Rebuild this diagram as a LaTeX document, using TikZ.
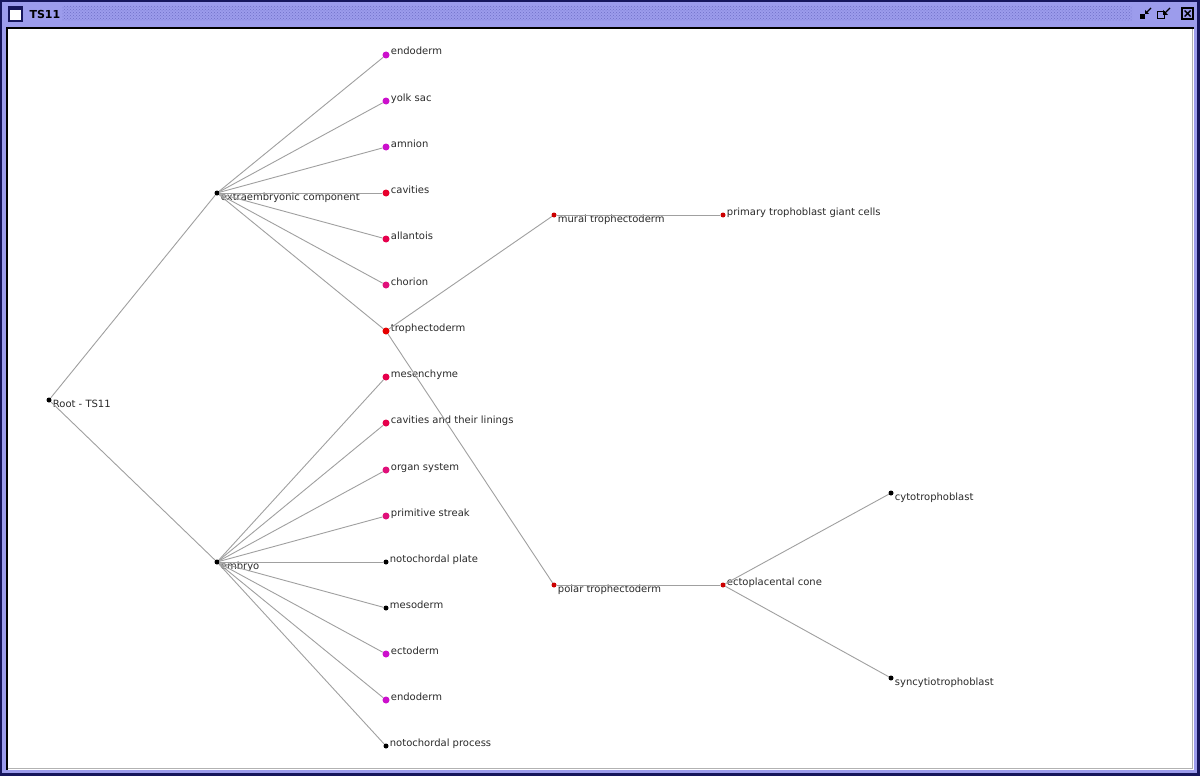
\documentclass[tikz,border=0pt]{standalone}
\usepackage{fontspec}
\setmainfont{DejaVu Sans}
\usetikzlibrary{patterns}
\definecolor{navy}{HTML}{16165C}
\definecolor{lavender}{HTML}{9C9CEC}
\definecolor{hatch}{HTML}{7070C8}
\definecolor{edgegray}{HTML}{A0A0A0}
\definecolor{txtgray}{HTML}{2A2A2A}
\definecolor{mag}{HTML}{CC10CC}
\definecolor{pinkred}{HTML}{E6004C}
\definecolor{rosered}{HTML}{E0107A}
\definecolor{hotred}{HTML}{E8002C}
\definecolor{darkred}{HTML}{CC0000}
\begin{document}
\begin{tikzpicture}[x=1pt, y=-1pt,
  font=\fontsize{10}{12}\selectfont, text=txtgray,
  dot/.style={circle, fill=#1, inner sep=0pt, minimum size=7pt},
  smalldot/.style={circle, fill=#1, inner sep=0pt, minimum size=5pt},
  lblup/.style={label={[anchor=base west, inner sep=1pt]0:#1}},
  lbldown/.style={label={[anchor=north west, inner sep=0pt, xshift=1pt]0:#1}},
  edge/.style={draw=edgegray, line width=0.9pt}]
  \useasboundingbox (0,0) rectangle (1200,776);

  % Window frame
  \fill[navy] (0,0) rectangle (1200,776);
  \fill[lavender] (2,2) rectangle (1197,773);
  \fill[pattern=crosshatch dots, pattern color=hatch] (62,6) rectangle (1132,21);
  \fill[white] (7,27) rectangle (1194,770);
  \draw[black, line width=1.5pt] (7,770) -- (7,28) -- (1194,28);
  \draw[gray!60, line width=1pt] (8,768) -- (1192,768) -- (1192,29);

  % Title bar
  \draw[navy, fill=white, line width=1.2pt] (9,7) rectangle (22,21);
  \fill[navy] (9,7) rectangle (22,10);
  \node[anchor=west, font=\bfseries\fontsize{11}{12}\selectfont, text=black] (title) at (26,14) {TS11};
  \fill[black] (1140,14) rectangle (1145,19);
  \draw[black, line width=1.2pt] (1151,8) -- (1146,13);
  \fill[black] (1145,10) -- (1145,14) -- (1149,14) -- cycle;
  \draw[black, line width=1pt] (1157,12) rectangle (1164,19);
  \draw[black, line width=1.2pt] (1170,8) -- (1164,14);
  \fill[black] (1163,10) -- (1163,15) -- (1168,15) -- cycle;
  \draw[black, line width=1.2pt] (1182,8) rectangle (1193,19);
  \draw[black, line width=1.4pt] (1184.5,10.5) -- (1190.5,16.5) (1190.5,10.5) -- (1184.5,16.5);

  % Root and first level
  \node[smalldot=black, lbldown={Root - TS11}] (root) at (49,400) {};
  \node[smalldot=black, lbldown={extraembryonic component}] (extra) at (217,193) {};
  \node[smalldot=black, lbldown={embryo}] (embryo) at (217,562) {};

  % Extraembryonic component
  \node[dot=mag, lblup={endoderm}] (xendo) at (386,55) {};
  \node[dot=mag, lblup={yolk sac}] (yolk) at (386,101) {};
  \node[dot=mag, lblup={amnion}] (amnion) at (386,147) {};
  \node[dot=hotred, lblup={cavities}] (xcav) at (386,193) {};
  \node[dot=pinkred, lblup={allantois}] (allan) at (386,239) {};
  \node[dot=rosered, lblup={chorion}] (chorion) at (386,285) {};
  \node[dot=red!90!black, lblup={trophectoderm}] (troph) at (386,331) {};

  % Embryo
  \node[dot=pinkred, lblup={mesenchyme}] (mesen) at (386,377) {};
  \node[dot=pinkred, lblup={cavities and their linings}] (ecav) at (386,423) {};
  \node[dot=rosered, lblup={organ system}] (organ) at (386,470) {};
  \node[dot=rosered, lblup={primitive streak}] (streak) at (386,516) {};
  \node[smalldot=black, lblup={notochordal plate}] (nplate) at (386,562) {};
  \node[smalldot=black, lblup={mesoderm}] (meso) at (386,608) {};
  \node[dot=mag, lblup={ectoderm}] (ecto) at (386,654) {};
  \node[dot=mag, lblup={endoderm}] (eendo) at (386,700) {};
  \node[smalldot=black, lblup={notochordal process}] (nproc) at (386,746) {};

  % Trophectoderm branch
  \node[smalldot=darkred, lbldown={mural trophectoderm}] (mural) at (554,215) {};
  \node[smalldot=darkred, lblup={primary trophoblast giant cells}] (giant) at (723,215) {};
  \node[smalldot=darkred, lbldown={polar trophectoderm}] (polar) at (554,585) {};
  \node[smalldot=darkred, lblup={ectoplacental cone}] (cone) at (723,585) {};
  \node[smalldot=black, lbldown={cytotrophoblast}] (cyto) at (891,493) {};
  \node[smalldot=black, lbldown={syncytiotrophoblast}] (syncy) at (891,678) {};

  % Edges
  \draw[edge] (root) -- (extra);
  \draw[edge] (root) -- (embryo);
  \foreach \n in {xendo, yolk, amnion, xcav, allan, chorion, troph}
    \draw[edge] (extra) -- (\n);
  \foreach \n in {mesen, ecav, organ, streak, nplate, meso, ecto, eendo, nproc}
    \draw[edge] (embryo) -- (\n);
  \draw[edge] (troph) -- (mural);
  \draw[edge] (troph) -- (polar);
  \draw[edge] (mural) -- (giant);
  \draw[edge] (polar) -- (cone);
  \draw[edge] (cone) -- (cyto);
  \draw[edge] (cone) -- (syncy);
\end{tikzpicture}
\end{document}
